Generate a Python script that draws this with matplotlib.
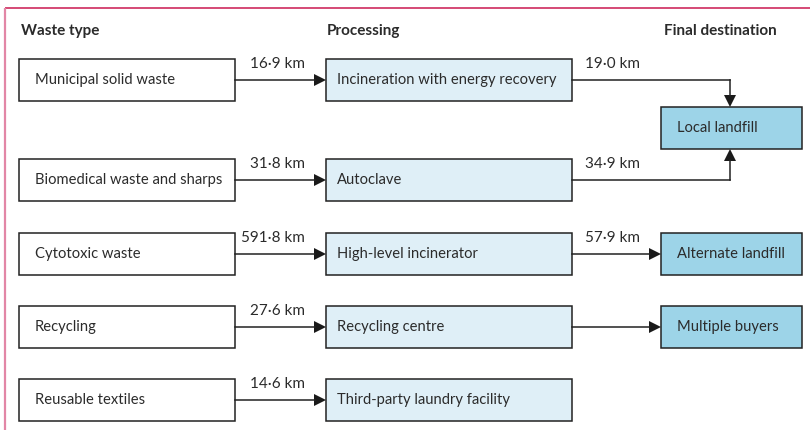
import matplotlib.pyplot as plt
from matplotlib.patches import Rectangle, Polygon

# data
waste_types = ["Municipal solid waste", "Biomedical waste and sharps",
               "Cytotoxic waste", "Recycling", "Reusable textiles"]
processes = ["Incineration with energy recovery", "Autoclave",
             "High-level incinerator", "Recycling centre",
             "Third-party laundry facility"]
to_process_km = ["16·9 km", "31·8 km", "591·8 km", "27·6 km", "14·6 km"]
destinations = ["Local landfill", "Alternate landfill", "Multiple buyers"]
to_dest_km = ["19·0 km", "34·9 km", "57·9 km", None, None]
# which destination each process goes to (None = no link)
dest_of = [0, 0, 1, 2, None]

plt.rcParams['font.family'] = ['Lato', 'DejaVu Sans']
TXT = '#2b2b2b'
EDGE = '#222222'
LIGHT = '#dfeff7'
DARK = '#9dd4e8'

fig = plt.figure(figsize=(8.1, 4.3), dpi=100)
ax = fig.add_axes([0, 0, 1, 1])
ax.set_xlim(0, 810)
ax.set_ylim(430, 0)
ax.axis('off')

# frame lines
ax.plot([5, 810], [8, 8], color='#d23b6a', lw=1.3, solid_capstyle='butt')
ax.plot([5, 5], [8, 430], color='#e286a6', lw=1.6, solid_capstyle='butt')

# headers
hdr = dict(fontsize=11, fontweight='bold', color=TXT, va='center')
ax.text(21, 31, "Waste type", **hdr)
ax.text(327, 31, "Processing", **hdr)
ax.text(664, 31, "Final destination", **hdr)

row_top = [59, 159, 233, 306, 379]
box_h = 42
lx0, lx1 = 19, 235
mx0, mx1 = 326, 572
rx0, rx1 = 661, 802
dest_top = [107, 233, 306]


def box(x0, x1, y0, label, fc, pad):
    ax.add_patch(Rectangle((x0, y0), x1 - x0, box_h, facecolor=fc,
                           edgecolor=EDGE, lw=1.1))
    ax.text(x0 + pad, y0 + box_h / 2, label, fontsize=10.6, color=TXT,
            va='center', ha='left')


def arrow_h(x0, x1, y):
    ax.plot([x0, x1 - 11], [y, y], color=EDGE, lw=1.1)
    ax.add_patch(Polygon([(x1 - 12, y - 6), (x1, y), (x1 - 12, y + 6)],
                         closed=True, color='#1a1a1a', lw=0))


def arrow_v(x, y0, y1):
    d = 1 if y1 > y0 else -1
    ax.plot([x, x], [y0, y1 - d * 11], color=EDGE, lw=1.1)
    ax.add_patch(Polygon([(x - 6, y1 - d * 12), (x, y1), (x + 6, y1 - d * 12)],
                         closed=True, color='#1a1a1a', lw=0))


for i, (w, p, km) in enumerate(zip(waste_types, processes, to_process_km)):
    y0 = row_top[i]
    yc = y0 + box_h / 2
    box(lx0, lx1, y0, w, 'white', 16)
    box(mx0, mx1, y0, p, LIGHT, 11)
    arrow_h(lx1, mx0, yc)
    ax.text(305, yc - 9, km, fontsize=11, color=TXT, ha='right',
            va='bottom')

for j, d in enumerate(destinations):
    box(rx0, rx1, dest_top[j], d, DARK, 16)

for i, dj in enumerate(dest_of):
    if dj is None:
        continue
    yc = row_top[i] + box_h / 2
    if dj == 0:
        xt = 730
        ax.plot([mx1, xt], [yc, yc], color=EDGE, lw=1.1)
        if yc < dest_top[0]:
            arrow_v(xt, yc, dest_top[0])
        else:
            arrow_v(xt, yc, dest_top[0] + box_h)
    else:
        arrow_h(mx1, rx0, yc)
    if to_dest_km[i]:
        ax.text(585, yc - 9, to_dest_km[i], fontsize=11, color=TXT,
                ha='left', va='bottom')

fig.savefig('out.png', dpi=100)
